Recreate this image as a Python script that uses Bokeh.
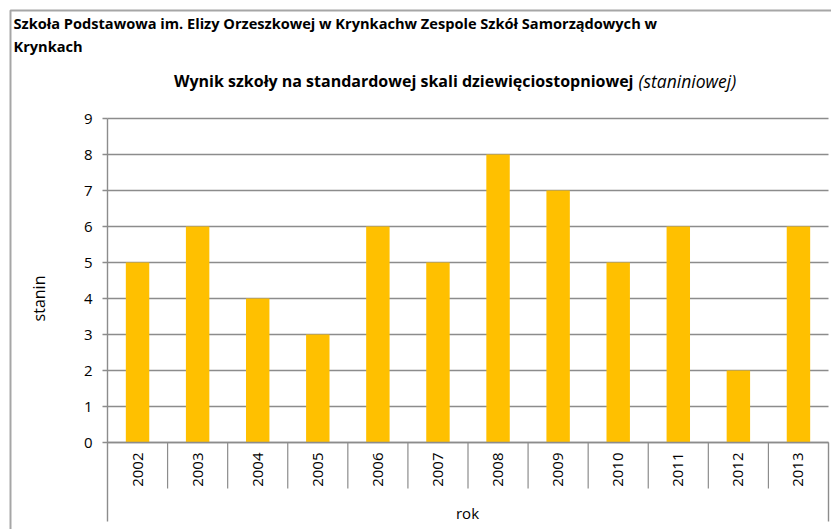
import math
from bokeh.plotting import figure
from bokeh.models import Range1d, ColumnDataSource
from bokeh.core.properties import value
from bokeh.embed import file_html
from bokeh.resources import INLINE

# ---- data ----
years = ["2002", "2003", "2004", "2005", "2006", "2007",
         "2008", "2009", "2010", "2011", "2012", "2013"]
stanin = [5, 6, 4, 3, 6, 5, 8, 7, 5, 6, 2, 6]
y_ticks = [0, 1, 2, 3, 4, 5, 6, 7, 8, 9]

title_line1 = "Szkoła Podstawowa im. Elizy Orzeszkowej w Krynkachw Zespole Szkół Samorządowych w"
title_line2 = "Krynkach"
subtitle_bold = "Wynik szkoły na standardowej skali dziewięciostopniowej"
subtitle_italic = "(staniniowej)"
y_label = "stanin"
x_label = "rok"

# ---- style / layout ----
GRID = "#8C8C8C"
BORDER = "#A6A6A6"
BAR = "#FFC000"
TXT = "#000000"
FONT = "Open Sans"

W, H = 831, 529            # canvas size
PL, P0 = 107, 442          # pixel of x=0 (plot left) and y=0 (baseline)
CW, UH = 721 / 12, 36.0    # pixels per category / per y unit

n = len(years)

def dx(px):  # pixel x -> data x
    return (px - PL) / CW

def dy(py):  # pixel y (from top) -> data y
    return (P0 - py) / UH

p = figure(width=W, height=H, output_backend="svg", toolbar_location=None,
           x_range=Range1d(dx(0), dx(W)), y_range=Range1d(dy(H), dy(0)),
           x_axis_type=None, y_axis_type=None,
           min_border=0, min_border_left=0, min_border_right=0,
           min_border_top=0, min_border_bottom=0,
           outline_line_color=None, background_fill_color="white",
           border_fill_color="white")
p.grid.visible = False

y_axis_bottom = dy(521)
sep_bottom = dy(488)

# outer chart border (top and left edges)
p.line(x=[dx(10), dx(10), dx(W + 5)], y=[dy(H + 5), dy(10), dy(10)],
       line_color=BORDER, line_width=2)

# horizontal gridlines
p.segment(x0=[0] * len(y_ticks), y0=y_ticks, x1=[n] * len(y_ticks), y1=y_ticks,
          line_color=GRID, line_width=1.4)
# y tick marks
p.segment(x0=[dx(PL - 5)] * len(y_ticks), y0=y_ticks, x1=[0] * len(y_ticks), y1=y_ticks,
          line_color=GRID, line_width=1.4)
# y axis line (extends down into the category box)
p.segment(x0=[0], y0=[max(y_ticks)], x1=[0], y1=[y_axis_bottom],
          line_color=GRID, line_width=1.4)
# right edge of category box
p.segment(x0=[n], y0=[0], x1=[n], y1=[y_axis_bottom], line_color=GRID, line_width=1.4)
# category separators
sep_x = list(range(1, n))
p.segment(x0=sep_x, y0=[0] * len(sep_x), x1=sep_x, y1=[sep_bottom] * len(sep_x),
          line_color=GRID, line_width=1.2)

# bars
src = ColumnDataSource(dict(x=[i + 0.5 for i in range(n)], top=stanin, year=years))
p.vbar(x="x", top="top", bottom=0, width=0.39, source=src,
       fill_color=BAR, line_color=None)

# baseline on top of bars
p.segment(x0=[0], y0=[0], x1=[n], y1=[0], line_color=GRID, line_width=1.4)

# y tick labels
p.text(x=[dx(92)] * len(y_ticks), y=y_ticks, text=[str(t) for t in y_ticks],
       text_align="right", text_baseline="middle",
       text_font=value(FONT), text_font_size=value("15px"), text_color=TXT)

# category labels (rotated)
p.text(x="x", y=dy(452), text="year", source=src, angle=math.pi / 2,
       text_align="right", text_baseline="middle",
       text_font=value(FONT), text_font_size=value("15px"), text_color=TXT)

# axis titles
p.text(x=[dx(467)], y=[dy(512)], text=[x_label],
       text_align="center", text_baseline="middle",
       text_font=value(FONT), text_font_size=value("15px"), text_color=TXT)
p.text(x=[dx(38)], y=[dy(298)], text=[y_label], angle=math.pi / 2,
       text_align="center", text_baseline="middle",
       text_font=value(FONT), text_font_size=value("16px"), text_color=TXT)

# titles
p.text(x=[dx(13)], y=[dy(22)], text=[title_line1], text_align="left",
       text_baseline="middle", text_font=value(FONT), text_font_style="bold",
       text_font_size=value("14.6px"), text_color=TXT)
p.text(x=[dx(13)], y=[dy(45)], text=[title_line2], text_align="left",
       text_baseline="middle", text_font=value(FONT), text_font_style="bold",
       text_font_size=value("14.6px"), text_color=TXT)
p.text(x=[dx(633)], y=[dy(80)], text=[subtitle_bold], text_align="right",
       text_baseline="middle", text_font=value(FONT), text_font_style="bold",
       text_font_size=value("16px"), text_color=TXT)
p.text(x=[dx(638)], y=[dy(80)], text=[subtitle_italic], text_align="left",
       text_baseline="middle", text_font=value(FONT), text_font_style="italic",
       text_font_size=value("17.5px"), text_color=TXT)

open("out.html", "w").write(file_html(p, INLINE))
